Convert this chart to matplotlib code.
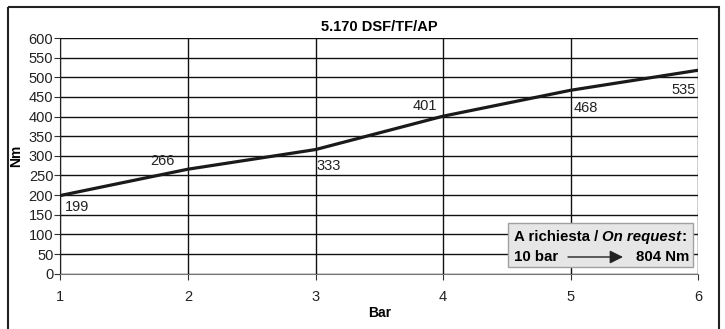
import matplotlib
matplotlib.use('Agg')
import matplotlib.pyplot as plt
from matplotlib.patches import Rectangle

plt.rcParams['font.family'] = ['Liberation Sans', 'DejaVu Sans']

# data
bar = [1, 2, 3, 4, 5, 6]
torque_line = [199, 266, 316, 401, 467, 518]
torque_labels = [199, 266, 333, 401, 468, 535]
yticks = list(range(0, 601, 50))

W, H = 725, 329
fig = plt.figure(figsize=(W / 100, H / 100), dpi=100)
ax = fig.add_axes([60.3 / W, 1 - 273.7 / H, (698.3 - 60.3) / W, (273.7 - 38) / H])

ax.plot(bar, torque_line, color='#1a1a1a', lw=2.3, zorder=3)

# value labels, placed like the original (offsets in pixels, alignment)
placement = [(5, -4, 'left', 'top'), (-13, 1, 'right', 'bottom'),
             (1, -9, 'left', 'top'), (-6, 3, 'right', 'bottom'),
             (3, -11, 'left', 'top'), (-2, -13, 'right', 'top')]
for x, y, v, (dx, dy, ha, va) in zip(bar, torque_line, torque_labels, placement):
    ax.annotate(str(v), (x, y), xytext=(dx, dy), textcoords='offset pixels',
                fontsize=10.5, color='#222222', ha=ha, va=va)

ax.set_xlim(1, 6)
ax.set_ylim(0, 600)
ax.set_xticks(bar)
ax.set_yticks(yticks)
ax.grid(True, color='#111111', lw=1.0)
ax.set_axisbelow(True)
for s in ['top', 'right']:
    ax.spines[s].set_visible(False)
ax.spines['left'].set_color('#222222')
ax.spines['bottom'].set_color('#777777')
ax.tick_params(axis='y', length=4, labelsize=10.5, color='#333333', labelcolor='#222222', pad=1)
ax.tick_params(axis='x', length=4, labelsize=10.5, color='#333333', labelcolor='#222222', pad=8)

ax.set_title('5.170 DSF/TF/AP', fontsize=10.5, fontweight='bold', pad=5)
ax.set_xlabel('Bar', fontsize=10, fontweight='bold', labelpad=1)
ax.set_ylabel('Nm', fontsize=10, fontweight='bold', labelpad=4)

# overlay in pixel coordinates for the note box and the frame
ov = fig.add_axes([0, 0, 1, 1], zorder=10)
ov.set_xlim(0, W)
ov.set_ylim(H, 0)
ov.axis('off')
ov.patch.set_alpha(0)

fs = 10.8
ov.add_patch(Rectangle((508, 223), 693 - 508, 267 - 223, facecolor='#e6e6e6',
                       edgecolor='#a0a0a0', lw=1.0))
t1 = ov.text(514, 237, 'A richiesta / ', fontsize=fs, fontweight='bold',
             va='center', ha='left')
t2 = ov.annotate('On request', xy=(1, 0.5), xycoords=t1, fontsize=fs,
                 fontweight='bold', style='italic', va='center', ha='left')
ov.annotate(':', xy=(1, 0.5), xycoords=t2, fontsize=fs, fontweight='bold',
            va='center', ha='left')
ov.text(514, 257, '10 bar', fontsize=fs, fontweight='bold', va='center', ha='left')
ov.text(689, 257, '804 Nm', fontsize=fs, fontweight='bold', va='center', ha='right')
ov.annotate('', xy=(623, 257), xytext=(568, 257),
            arrowprops=dict(arrowstyle='-|>', color='#222222', lw=1.0,
                            mutation_scale=20, shrinkA=0, shrinkB=0))

# outer frame (bottom edge runs past the image)
ov.add_patch(Rectangle((8, 7), 719 - 8, 330, fill=False, edgecolor='#222222',
                       lw=1.5, clip_on=False))

fig.savefig('out.png', dpi=100, facecolor='white')
